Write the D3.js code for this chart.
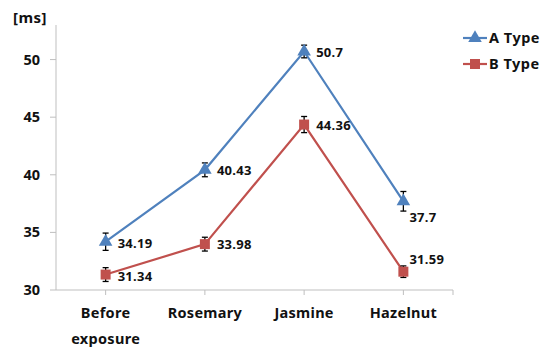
<!DOCTYPE html>
<head>
  <meta charset="utf-8">
  <script src="https://d3js.org/d3.v7.min.js"></script>
  <style>
    body { margin:0; background:#fff; }
    text { font-family: "Noto Sans", sans-serif; font-weight: bold; fill: #111; }
  </style>
</head>
<body>
<script>
// data
var categories = ["Before exposure", "Rosemary", "Jasmine", "Hazelnut"];
var typeA = [34.19, 40.43, 50.7, 37.7];
var typeB = [31.34, 33.98, 44.36, 31.59];
var errA = [0.75, 0.6, 0.55, 0.85];
var errB = [0.6, 0.6, 0.7, 0.5];
var yTicks = [30, 35, 40, 45, 50];

var svg = d3.select("body").append("svg")
  .attr("width", 548).attr("height", 349);

var x = d3.scaleBand().domain(categories).range([56, 453]);
var y = d3.scaleLinear().domain([30, 53]).range([290, 25]);

var axisColor = "#bfbfbf";

// y axis
svg.append("line").attr("x1", 56).attr("x2", 56).attr("y1", y(53)).attr("y2", y(30))
  .attr("stroke", axisColor);
svg.selectAll(".ytick").data(yTicks).enter().append("line")
  .attr("x1", 50).attr("x2", 56)
  .attr("y1", function(d){ return y(d); }).attr("y2", function(d){ return y(d); })
  .attr("stroke", axisColor);
svg.selectAll(".ylab").data(yTicks).enter().append("text")
  .attr("x", 40).attr("y", function(d){ return y(d) + 5; })
  .attr("text-anchor", "end").style("font-size", "14.5px")
  .text(function(d){ return d; });
svg.append("text").attr("x", 13).attr("y", 23).style("font-size", "15px")
  .style("letter-spacing", "0.5px").text("[ms]");

// x axis
svg.append("line").attr("x1", 56).attr("x2", 453).attr("y1", y(30)).attr("y2", y(30))
  .attr("stroke", axisColor);
var xt = categories.map(function(c){ return x(c) + x.bandwidth()/2; }).concat([453]);
svg.selectAll(".xtick").data(xt).enter().append("line")
  .attr("x1", function(d){ return d; }).attr("x2", function(d){ return d; })
  .attr("y1", y(30)).attr("y2", y(30) + 5)
  .attr("stroke", axisColor);
categories.forEach(function(c){
  var cx = x(c) + x.bandwidth()/2;
  var words = c === "Before exposure" ? ["Before", "exposure"] : [c];
  words.forEach(function(w, i){
    svg.append("text").attr("x", cx).attr("y", 318 + i*26)
      .attr("text-anchor", "middle").style("font-size", "14.5px")
      .style("letter-spacing", "0.3px").text(w);
  });
});

function cx(i){ return x(categories[i]) + x.bandwidth()/2; }

var line = d3.line().x(function(d, i){ return cx(i); }).y(function(d){ return y(d); });

var series = [
  {name: "A Type", values: typeA, err: errA, color: "#4f81bd", shape: d3.symbolTriangle, size: 80},
  {name: "B Type", values: typeB, err: errB, color: "#c0504d", shape: d3.symbolSquare, size: 100}
];

series.forEach(function(s){
  svg.append("path").datum(s.values).attr("d", line)
    .attr("fill", "none").attr("stroke", s.color).attr("stroke-width", 2.2);
});

series.forEach(function(s){
  // error bars
  s.values.forEach(function(v, i){
    var g = svg.append("g").attr("stroke", "#000").attr("stroke-width", 1.3);
    g.append("line").attr("x1", cx(i)).attr("x2", cx(i))
      .attr("y1", y(v - s.err[i])).attr("y2", y(v + s.err[i]));
    [v - s.err[i], v + s.err[i]].forEach(function(e){
      g.append("line").attr("x1", cx(i) - 3).attr("x2", cx(i) + 3)
        .attr("y1", y(e)).attr("y2", y(e));
    });
  });
  svg.selectAll(null).data(s.values).enter().append("path")
    .attr("d", d3.symbol().type(s.shape).size(s.size))
    .attr("transform", function(d, i){ return "translate(" + cx(i) + "," + y(d) + ")"; })
    .attr("fill", s.color);
});

// data labels
var labelOffA = [[12, 6], [12, 5], [12, 5], [6, 21]];
var labelOffB = [[12, 6], [12, 5], [12, 5], [6, -8]];
[[typeA, labelOffA], [typeB, labelOffB]].forEach(function(p){
  p[0].forEach(function(v, i){
    svg.append("text").attr("x", cx(i) + p[1][i][0]).attr("y", y(v) + p[1][i][1])
      .style("font-size", "13px").style("letter-spacing", "0.3px").text(v);
  });
});

// legend
series.forEach(function(s, i){
  var ly = 38 + i*26;
  svg.append("line").attr("x1", 463).attr("x2", 487).attr("y1", ly).attr("y2", ly)
    .attr("stroke", s.color).attr("stroke-width", 2.2);
  svg.append("path").attr("d", d3.symbol().type(s.shape).size(s.size))
    .attr("transform", "translate(475," + ly + ")").attr("fill", s.color);
  svg.append("text").attr("x", 489).attr("y", ly + 5).style("font-size", "14.5px")
    .style("letter-spacing", "0.5px").text(s.name);
});
</script>
</body>
